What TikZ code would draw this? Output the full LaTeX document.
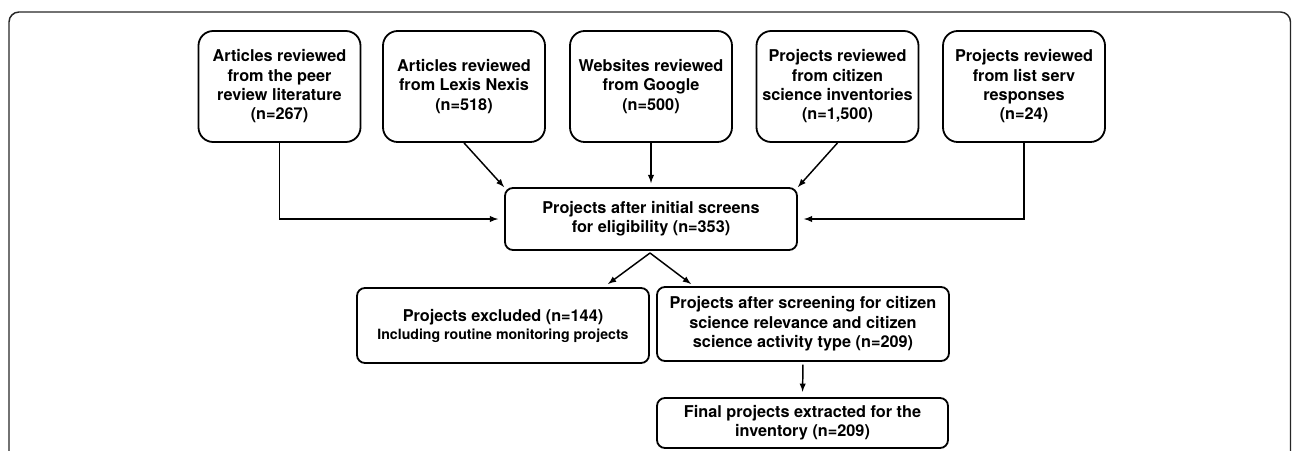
\documentclass[tikz,border=0pt]{standalone}
\usepackage{fontspec}
\setmainfont{TeX Gyre Heros}
\usetikzlibrary{arrows,calc}

\begin{document}
\begin{tikzpicture}[x=0.75pt,y=-0.75pt,>=latex,
    srcbox/.style={draw,line width=1.35pt,rounded corners=11pt,align=center,inner sep=2pt,
      minimum width=121.5pt,minimum height=83.25pt,font=\fontsize{12.2}{14.5}\selectfont\bfseries},
    stagebox/.style={draw,line width=1.35pt,rounded corners=6pt,align=center,inner sep=2pt,
      minimum width=219pt,font=\fontsize{12.2}{14.5}\selectfont\bfseries},
    flow/.style={->,line width=1.1pt}]
  \useasboundingbox (0,0) rectangle (1292,450);
  % frame round the chart
  \draw[line width=1.1pt,black!85,rounded corners=7.5pt] (9,452) -- (9,12) -- (1290.5,12) -- (1290.5,452);
  % sources
  \node[srcbox] (peer) at (279.5,86.5) {Articles reviewed\\from the peer\\review literature\\(n=267)};
  \node[srcbox] (lexis) at (464,86.5) {Articles reviewed\\from Lexis Nexis\\(n=518)};
  \node[srcbox] (google) at (651,86.5) {Websites reviewed\\from Google\\(n=500)};
  \node[srcbox] (invent) at (837.5,86.5) {Projects reviewed\\from citizen\\science inventories\\(n=1,500)};
  \node[srcbox] (listserv) at (1024,86.5) {Projects reviewed\\from list serv\\responses\\(n=24)};
  % screening stages
  \node[stagebox,minimum height=46.5pt] (initial) at (651,219) {Projects after initial screens\\for eligibility (n=353)};
  \node[stagebox,minimum height=56.25pt] (excluded) at (503,325.5) {Projects excluded (n=144)\\[-1pt]{\fontsize{10.6}{12.5}\selectfont Including routine monitoring projects}};
  \node[stagebox,minimum height=55.5pt] (relevant) at (803,324) {Projects after screening for citizen\\science relevance and citizen\\science activity type (n=209)};
  \node[stagebox,minimum width=218.25pt,minimum height=37.5pt] (final) at (802.5,423) {Final projects extracted for the\\inventory (n=209)};
  \coordinate (fork) at (650,253);
  \coordinate (toexcl) at (608,284);
  \coordinate (torel) at (691,284);
  % connectors
  \draw[flow,shorten >=4.5pt] (peer.south) |- (initial.west);
  \draw[flow,shorten >=4.5pt] (listserv.south) |- (initial.east);
  \draw[flow] (lexis.south) -- (initial.north west);
  \draw[flow,shorten >=3pt] (google.south) -- (initial.north);
  \draw[flow] (invent.south) -- (initial.north east);
  \draw[flow] (fork) -- (toexcl);
  \draw[flow] (fork) -- (torel);
  \draw[flow,shorten <=2pt,shorten >=4pt] (relevant.south) -- (final.north);
\end{tikzpicture}
\end{document}
